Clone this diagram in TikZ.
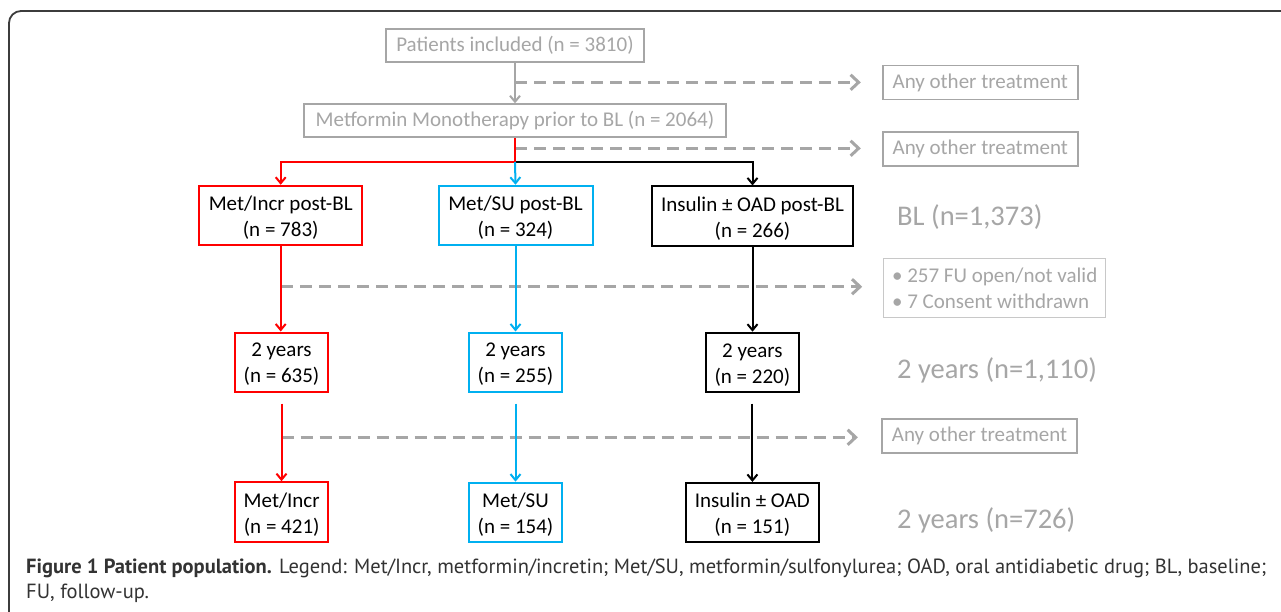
\documentclass[tikz,border=0pt]{standalone}
\usepackage{fontspec}
\setmainfont{Carlito}
\newfontfamily\capfont{PT Sans}
\usetikzlibrary{arrows.meta}
\definecolor{cred}{HTML}{FF0000}
\definecolor{cblue}{HTML}{00B0F0}
\definecolor{cgray}{HTML}{A6A6A6}
\definecolor{clight}{HTML}{C8C8C8}
\definecolor{ccap}{HTML}{333333}
\definecolor{cframe}{HTML}{3C3C3C}
\tikzset{
  boxtext/.style={font=\fontsize{21}{26}\selectfont},
  cbox/.style={draw=#1, line width=2pt, inner sep=0pt, align=center, boxtext},
  intext/.style={label={[boxtext, align=center, inner sep=0pt, yshift=-2.5pt]center:#1}},
  gbox/.style={draw=cgray, line width=1.8pt, inner sep=0pt, align=center, text=cgray, boxtext},
  lbox/.style={draw=clight, line width=1pt, inner sep=0pt, align=left, text=cgray, boxtext},
  count/.style={anchor=west, inner sep=0pt, text=cgray, font=\fontsize{28.5}{34}\selectfont},
  arr/.style={draw=#1, line width=2pt, -{Straight Barb[length=6pt,width=10pt]}},
  dasharr/.style={draw=cgray, line width=3pt, dash pattern=on 12pt off 7pt,
    -{Straight Barb[length=8pt,width=15pt]}},
}
\begin{document}
\begin{tikzpicture}[x=1pt,y=-1pt]
\fill[white] (0,0) rectangle (1281,611);
\useasboundingbox (0,0) rectangle (1281,611);
\clip (0,0) rectangle (1281,611);
% frame
\draw[cframe, line width=1.8pt, rounded corners=12pt] (9,700) -- (9,11) -- (1400,11);

% top gray boxes
\node[gbox, minimum width=258pt, minimum height=33pt] (pat) at (515,45.5) {Patients included (n = 3810)};
\node[gbox, minimum width=422pt, minimum height=33pt] (met) at (515,120.7) {Metformin Monotherapy prior to BL (n = 2064)};
\node[gbox, minimum width=195pt, minimum height=34pt] (any1) at (980.2,82.5) {Any other treatment};
\node[gbox, minimum width=195pt, minimum height=34pt] (any2) at (980.2,149.2) {Any other treatment};
\node[gbox, minimum width=195.5pt, minimum height=34pt] (any3) at (979.5,436.2) {Any other treatment};
\node[lbox, minimum width=222pt, minimum height=59pt] (fu) at (994.7,287.8) {•~257 FU open/not valid\\•~7 Consent withdrawn};

% treatment boxes
\node[cbox=cred, minimum width=163pt, minimum height=59.5pt, intext={Met/Incr post-BL\\(n = 783)}] (incr) at (280.7,215.5) {};
\node[cbox=cblue, minimum width=154pt, minimum height=59.5pt, intext={Met/SU post-BL\\(n = 324)}] (su) at (515.5,215.5) {};
\node[cbox=black, minimum width=201pt, minimum height=59.5pt, intext={Insulin ± OAD post-BL\\(n = 266)}] (ins) at (752.5,216.2) {};

\node[cbox=cred, minimum width=93pt, minimum height=59pt, intext={2 years\\(n = 635)}] (incr2) at (281.5,362) {};
\node[cbox=cblue, minimum width=93pt, minimum height=59pt, intext={2 years\\(n = 255)}] (su2) at (515.5,362) {};
\node[cbox=black, minimum width=93pt, minimum height=59pt, intext={2 years\\(n = 220)}] (ins2) at (752.4,362.2) {};

\node[cbox=cred, minimum width=93pt, minimum height=60pt, intext={Met/Incr\\(n = 421)}] (incr3) at (281.7,512.2) {};
\node[cbox=cblue, minimum width=93.6pt, minimum height=59.5pt, intext={Met/SU\\(n = 154)}] (su3) at (515.5,512.4) {};
\node[cbox=black, minimum width=133.3pt, minimum height=59.3pt, intext={Insulin ± OAD\\(n = 151)}] (ins3) at (752.3,512.6) {};

% counts
\node[count] (cbl) at (897,217) {BL (n=1,373)};
\node[count] (c2y) at (897,370) {2 years (n=1,110)};
\node[count] (c726) at (897,520) {2 years (n=726)};

% dashed exclusions
\coordinate (d1) at (515,82.3);
\coordinate (d2) at (515,148.3);
\coordinate (d3) at (281,286.7);
\coordinate (d4) at (281.7,437.3);
\draw[dasharr, shorten >=21pt] (d1) -- (d1 -| any1.west);
\draw[dasharr, shorten >=21pt] (d2) -- (d2 -| any2.west);
\draw[dasharr, shorten >=21pt] (d3) -- (d3 -| fu.west);
\draw[dasharr, shorten >=23pt] (d4) -- (d4 -| any3.west);

% solid flow
\draw[arr=cgray] (pat.south) -- (met.north);
\coordinate (sp) at (515,162);
\draw[arr=black] (sp) -| (ins.north);
\draw[arr=cred] (met.south) -- (sp) -| (incr.north);
\draw[arr=cblue] (sp) -- (su.north);

\draw[arr=cred] (incr.south) -- (incr.south |- incr2.north);
\draw[arr=cblue] (su.south) -- (su.south |- su2.north);
\draw[arr=black] (ins.south) -- (ins.south |- ins2.north);

\draw[arr=cred, shorten <=11pt] (incr2.south) -- (incr2.south |- incr3.north);
\draw[arr=cblue, shorten <=11pt] (su2.south) -- (su2.south |- su3.north);
\draw[arr=black, shorten <=11pt] (ins2.south) -- (ins2.south |- ins3.north);

% caption
\node[anchor=north west, inner sep=0pt, align=left, text=ccap,
  font=\capfont\fontsize{20.5}{25}\selectfont] (cap) at (26,559)
  {\textbf{Figure 1 Patient population.} Legend: Met/Incr, metformin/incretin; Met/SU, metformin/sulfonylurea; OAD, oral antidiabetic drug; BL, baseline;\\FU, follow-up.};
\end{tikzpicture}
\end{document}
